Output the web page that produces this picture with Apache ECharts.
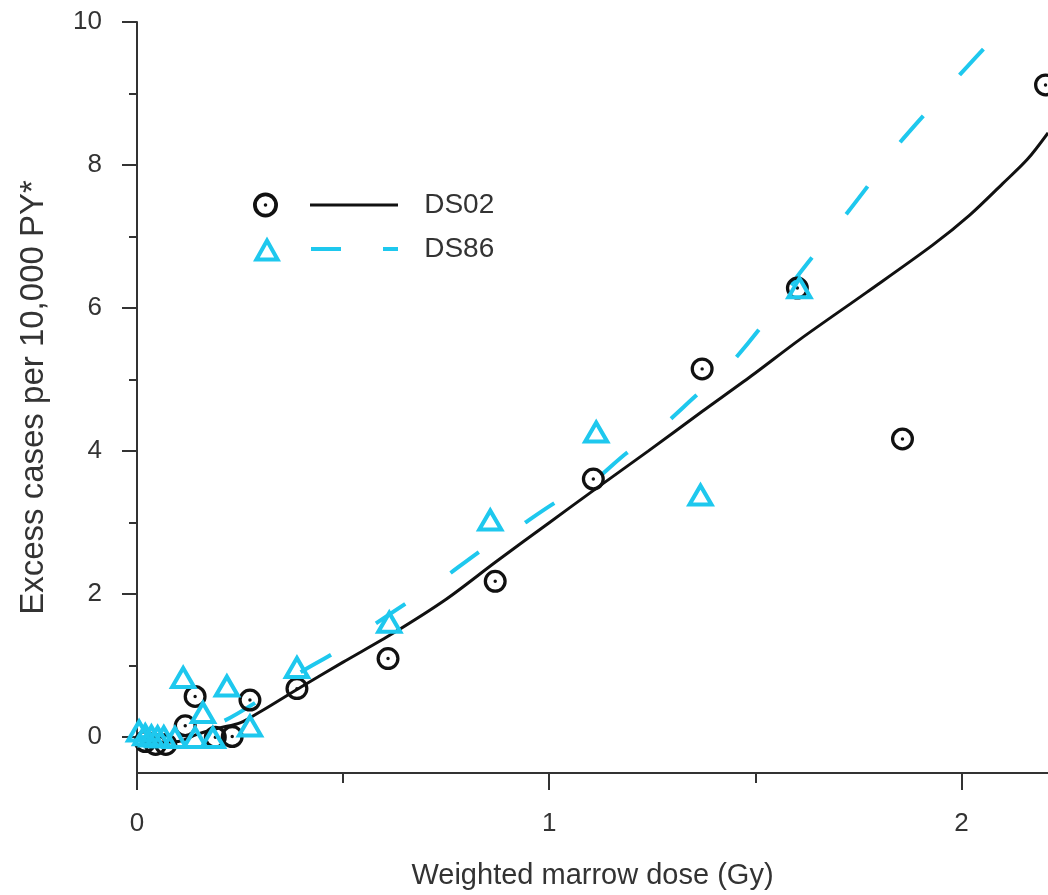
<!DOCTYPE html>
<html lang="en">
<head>
  <meta charset="UTF-8">
  <title>Excess cases vs weighted marrow dose</title>
  <script src="https://cdn.jsdelivr.net/npm/echarts@6/dist/echarts.min.js"></script>
  <style>
    html, body { margin: 0; padding: 0; background: #fff; }
    #main { width: 1048px; height: 895px; }
  </style>
</head>
<body>
<div id="main"></div>
<script>
  // observed points (dose in Gy, excess cases per 10,000 PY)
  var ds02Dose  = [0.02, 0.045, 0.07, 0.117, 0.141, 0.19, 0.231, 0.274, 0.388, 0.609, 0.869, 1.107, 1.371, 1.602, 1.857, 2.204];
  var ds02Cases = [-0.06, -0.1, -0.1, 0.16, 0.57, 0.0, 0.01, 0.52, 0.68, 1.10, 2.18, 3.61, 5.15, 6.28, 4.17, 9.12];

  var ds86Dose  = [0.005, 0.02, 0.035, 0.05, 0.065, 0.092, 0.112, 0.141, 0.16, 0.184, 0.218, 0.274, 0.388, 0.612, 0.857, 1.114, 1.367, 1.607];
  var ds86Cases = [0.1, 0.05, 0.03, 0.02, 0.02, 0.01, 0.85, 0.01, 0.36, 0.01, 0.73, 0.17, 0.99, 1.62, 3.05, 4.28, 3.40, 6.30];

  // fitted curves
  var fit02Dose  = [0, 0.05, 0.1, 0.15, 0.2, 0.25, 0.3, 0.4, 0.5, 0.62, 0.75, 0.87, 1.0, 1.1, 1.24, 1.37, 1.49, 1.61, 1.77, 1.93, 2.02, 2.1, 2.16, 2.21];
  var fit02Cases = [0, -0.07, -0.06, 0.05, 0.13, 0.2, 0.36, 0.71, 1.05, 1.45, 1.93, 2.45, 3.0, 3.42, 4.0, 4.55, 5.05, 5.57, 6.22, 6.88, 7.3, 7.74, 8.08, 8.45];

  var fit86Dose  = [0, 0.1, 0.2, 0.3, 0.4, 0.49, 0.556, 0.665, 0.733, 0.837, 0.903, 1.017, 1.09, 1.187, 1.255, 1.357, 1.43, 1.517, 1.6, 1.7, 1.78, 1.83, 1.92, 1.98, 2.075, 2.124];
  var fit86Cases = [0, 0.04, 0.2, 0.53, 0.92, 1.22, 1.5, 1.92, 2.18, 2.62, 2.85, 3.29, 3.5, 3.97, 4.25, 4.78, 5.16, 5.76, 6.43, 7.16, 7.76, 8.17, 8.77, 9.16, 9.75, 9.99];

  var xMajorTicks = [0, 1, 2];
  var xMinorTicks = [0.5, 1.5];
  var yMajorTicks = [0, 2, 4, 6, 8, 10];
  var yMinorTicks = [1, 3, 5, 7, 9];

  var seriesNames = ['DS02', 'DS86'];

  function pairs(xs, ys) {
    return xs.map(function (x, i) { return [x, ys[i]]; });
  }

  var BLACK = '#111111';
  var CYAN = '#1ec8ee';
  var AXIS = '#333333';
  var FONT = 'Liberation Sans, Arial, sans-serif';

  // ring with a dot (circle marker) and hollow triangle, as filled paths
  var circleSym = 'path://M12,0 A12,12 0 1,1 12,24 A12,12 0 1,1 12,0 Z M12,3.4 A8.6,8.6 0 1,0 12,20.6 A8.6,8.6 0 1,0 12,3.4 Z M12,10.2 A1.8,1.8 0 1,1 12,13.8 A1.8,1.8 0 1,1 12,10.2 Z';
  var triSym = 'path://M14,0 L28,25 L0,25 Z M14,8.18 L6.82,21 L21.18,21 Z';

  // legend icons: marker + line sample
  var legend02 = 'path://M12.5,0 A12.5,12.5 0 1,1 12.5,25 A12.5,12.5 0 1,1 12.5,0 Z M12.5,3.8 A8.7,8.7 0 1,0 12.5,21.2 A8.7,8.7 0 1,0 12.5,3.8 Z M12.5,10.7 A1.8,1.8 0 1,1 12.5,14.3 A1.8,1.8 0 1,1 12.5,10.7 Z M57,11 L145,11 L145,14 L57,14 Z';
  var legend86 = 'path://M14,0 L28,25 L0,25 Z M14,8.18 L6.82,21 L21.18,21 Z M58,10.5 L88,10.5 L88,14.5 L58,14.5 Z M130,10.5 L145,10.5 L145,14.5 L130,14.5 Z';

  var myChart = echarts.init(document.getElementById('main'), null, { renderer: 'canvas' });

  var xBase = { type: 'value', min: 0, max: 2.21, position: 'bottom', gridIndex: 0, splitLine: { show: false } };
  var yBase = { type: 'value', min: -0.5, max: 10, position: 'left', gridIndex: 0, splitLine: { show: false } };

  var option = {
    backgroundColor: '#fff',
    animation: false,
    grid: { left: 137, right: 0, top: 22, bottom: 118, containLabel: false },
    legend: {
      orient: 'vertical',
      left: 248,
      top: 186,
      itemWidth: 145,
      itemHeight: 25,
      itemGap: 16,
      symbolKeepAspect: false,
      selectedMode: false,
      formatter: '  \u2009{name}',
      textStyle: { fontSize: 28, color: AXIS, fontFamily: FONT },
      data: [
        { name: seriesNames[0], icon: legend02 },
        { name: seriesNames[1], icon: legend86 }
      ]
    },
    xAxis: [
      Object.assign({}, xBase, {
        name: 'Weighted marrow dose (Gy)',
        nameLocation: 'middle',
        nameGap: 88,
        nameTextStyle: { fontSize: 29, color: AXIS, fontFamily: FONT },
        axisLine: { show: true, onZero: false, lineStyle: { color: AXIS, width: 2 } },
        axisTick: { show: true, length: 17, customValues: xMajorTicks, lineStyle: { color: AXIS, width: 2 } },
        axisLabel: { show: true, margin: 38, customValues: xMajorTicks, fontSize: 26, color: AXIS, fontFamily: FONT }
      }),
      Object.assign({}, xBase, {
        axisLine: { show: false, onZero: false },
        axisTick: { show: true, length: 10, customValues: xMinorTicks, lineStyle: { color: AXIS, width: 2 } },
        axisLabel: { show: false }
      })
    ],
    yAxis: [
      Object.assign({}, yBase, {
        name: 'Excess cases per 10,000 PY*',
        nameLocation: 'middle',
        nameGap: 87,
        nameRotate: 90,
        nameTextStyle: { fontSize: 33, color: AXIS, fontFamily: FONT },
        axisLine: { show: true, onZero: false, lineStyle: { color: AXIS, width: 2 } },
        axisTick: { show: true, length: 15, customValues: yMajorTicks, lineStyle: { color: AXIS, width: 2 } },
        axisLabel: { show: true, margin: 35, customValues: yMajorTicks, fontSize: 26, color: AXIS, fontFamily: FONT }
      }),
      Object.assign({}, yBase, {
        axisLine: { show: false, onZero: false },
        axisTick: { show: true, length: 8, customValues: yMinorTicks, lineStyle: { color: AXIS, width: 2 } },
        axisLabel: { show: false }
      })
    ],
    series: [
      {
        name: seriesNames[0],
        type: 'scatter',
        z: 3,
        symbol: circleSym,
        symbolSize: 23,
        itemStyle: { color: BLACK, opacity: 1 },
        data: pairs(ds02Dose, ds02Cases)
      },
      {
        name: seriesNames[0],
        type: 'line',
        z: 2,
        smooth: 0.3,
        showSymbol: false,
        symbol: 'none',
        lineStyle: { color: BLACK, width: 3 },
        itemStyle: { color: BLACK },
        data: pairs(fit02Dose, fit02Cases)
      },
      {
        name: seriesNames[1],
        type: 'scatter',
        z: 3,
        symbol: triSym,
        symbolSize: [29, 25],
        itemStyle: { color: CYAN, opacity: 1 },
        data: pairs(ds86Dose, ds86Cases)
      },
      {
        name: seriesNames[1],
        type: 'line',
        z: 2,
        smooth: 0.3,
        showSymbol: false,
        symbol: 'none',
        lineStyle: { color: CYAN, width: 4, type: [35, 55] },
        itemStyle: { color: CYAN },
        data: pairs(fit86Dose, fit86Cases)
      }
    ]
  };

  myChart.setOption(option);
</script>
</body>
</html>
